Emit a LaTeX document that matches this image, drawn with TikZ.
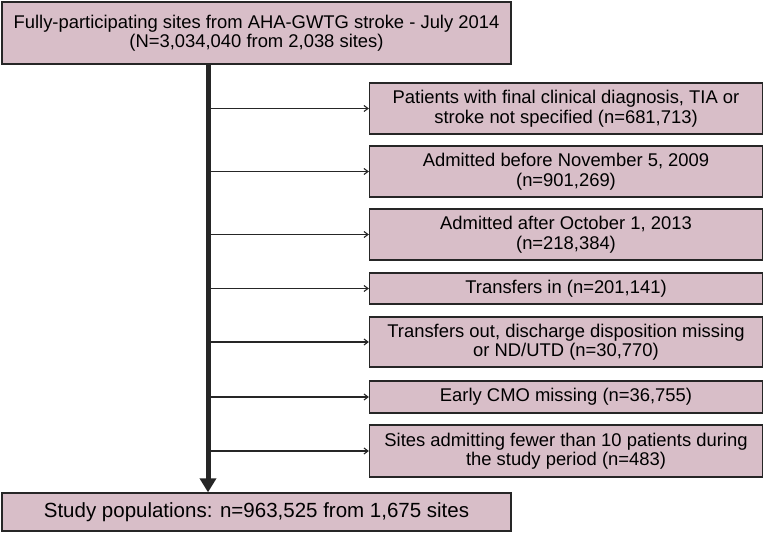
\documentclass[tikz,border=0pt]{standalone}
\usepackage{fontspec}
\setmainfont{Liberation Sans}
\usetikzlibrary{positioning,arrows.meta}
\definecolor{malva}{HTML}{D8BEC8}
\definecolor{borde}{HTML}{262626}

\tikzset{
  caja/.style={draw=borde, line width=1.3pt, fill=malva, align=center,
    inner sep=0pt, font=\fontsize{18.4}{19.5}\selectfont},
  lateral/.style={caja, minimum width=393pt},
  flecha/.style={-{Straight Barb[length=4pt,width=6pt]}, line width=1.1pt, borde},
}

\begin{document}
\begin{tikzpicture}[x=1pt,y=-1pt]
  \useasboundingbox (0,0) rectangle (765,534);
  % cajas principales
  \node[caja, minimum width=509pt, minimum height=62pt] (inicio) at (256.5,33)
    {Fully-participating sites from AHA-GWTG stroke - July 2014\\(N=3,034,040 from 2,038 sites)};
  \node[caja, minimum width=509pt, minimum height=38pt,
    font=\fontsize{20.5}{22}\selectfont] (final) at (256.5,512)
    {Study populations: n=963,525 from 1,675 sites};
  % exclusiones
  \node[lateral, minimum height=51pt] (ex1) at (566,108.5)
    {Patients with final clinical diagnosis, TIA or\\stroke not specified (n=681,713)};
  \node[lateral, minimum height=51pt] (ex2) at (566,171.5)
    {Admitted before November 5, 2009\\(n=901,269)};
  \node[lateral, minimum height=51pt] (ex3) at (566,234.5)
    {Admitted after October 1, 2013\\(n=218,384)};
  \node[lateral, minimum height=31pt] (ex4) at (566,288.5)
    {Transfers in (n=201,141)};
  \node[lateral, minimum height=50pt] (ex5) at (566,342)
    {Transfers out, discharge disposition missing\\or ND/UTD (n=30,770)};
  \node[lateral, minimum height=32pt] (ex6) at (566,397)
    {Early CMO missing (n=36,755)};
  \node[lateral, minimum height=52pt] (ex7) at (566,451)
    {Sites admitting fewer than 10 patients during\\the study period (n=483)};
  % eje vertical
  \coordinate (eje) at (208,0);
  \draw[line width=5pt, borde, -{Triangle[length=14pt,width=16pt]}]
    (eje |- inicio.south) -- (eje |- final.north);
  \foreach \n in {1,...,7}{
    \draw[flecha] (eje |- ex\n.west) -- (ex\n.west);
  }
\end{tikzpicture}
\end{document}
